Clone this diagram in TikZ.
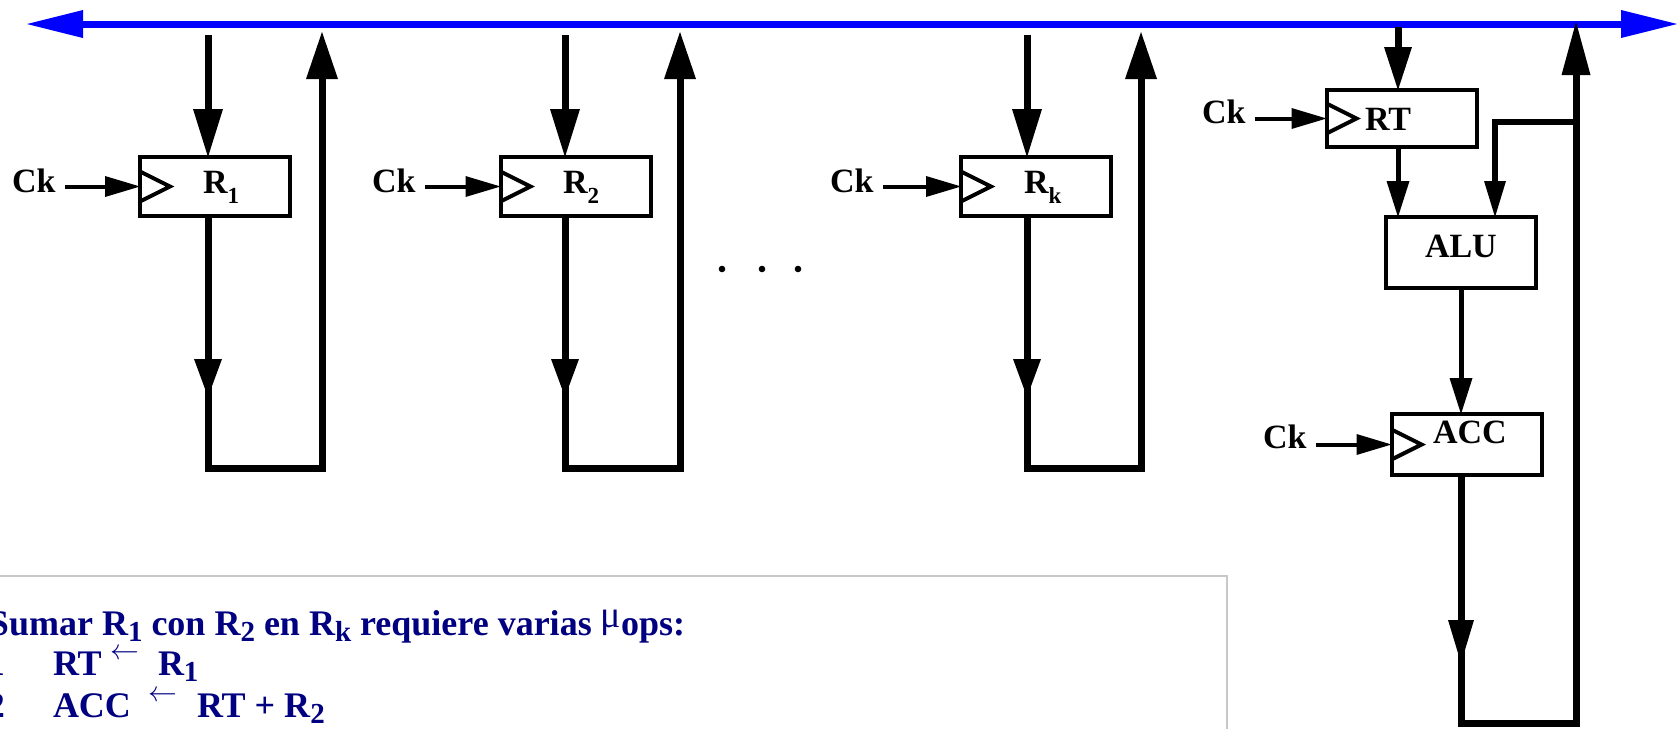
\documentclass[tikz,border=0pt]{standalone}
\usepackage{fontspec}
\setmainfont{Liberation Serif}
\usetikzlibrary{arrows.meta,calc}
\definecolor{busblue}{RGB}{0,0,255}
\definecolor{navytext}{RGB}{0,0,128}
\definecolor{framegray}{RGB}{200,200,200}
\newcommand\lblfont{\fontsize{17pt}{20pt}\selectfont\bfseries}
\newcommand\dsub[1]{\raisebox{-5pt}{\fontsize{11.5pt}{13pt}\selectfont #1}}
\newcommand\txtfont{\fontsize{18pt}{21pt}\selectfont\bfseries}
\newcommand\tsub[1]{\raisebox{-3pt}{\fontsize{14.5pt}{16pt}\selectfont #1}}
\newcommand\larrow{\raisebox{8pt}{\fontsize{14pt}{16pt}\selectfont$\leftarrow$}}
\newcommand\mutxt{\raisebox{4pt}{\fontsize{19pt}{20pt}\selectfont\mdseries μ}}
\begin{document}
\begin{tikzpicture}[x=0.5pt,y=-0.5pt,
  reg/.style={draw, line width=2pt, inner sep=0pt, outer sep=0pt, minimum width=75pt, minimum height=29.5pt},
  lbl/.style={inner sep=0pt, outer sep=0pt, font=\lblfont},
  txt/.style={inner sep=0pt, outer sep=0pt, font=\txtfont, text=navytext},
  dataline/.style={line width=3.5pt},
  medline/.style={line width=2.5pt},
  ckl/.style={line width=2pt, -{Triangle[length=17.5pt,width=10.5pt,line width=0pt]}},
  clk/.style={line width=2pt},
  busline/.style={line width=3.5pt, draw=busblue, fill=busblue,
     {Triangle[length=28pt,width=14pt,line width=0pt]}-{Triangle[length=28pt,width=14pt,line width=0pt]}},
  tapin/.style={dataline, -{Triangle[length=24pt,width=15pt,line width=0pt]}},
  tapout/.style={dataline, -{Triangle[length=23.5pt,width=16pt,line width=0pt]}},
  midarr/.style={dataline, -{Triangle[length=19pt,width=14pt,line width=0pt]}},
  smallarr/.style={medline, -{Triangle[length=18pt,width=11.5pt,line width=0pt]}},
  dotstyle/.style={fill=black},
]
\useasboundingbox (0,0) rectangle (1680,728);
\clip (0,0) rectangle (1680,728);

% bus
\coordinate (busL) at (27,24);
\coordinate (busR) at (1677,24);
\draw[busline] (busL) -- (busR);

% registers
\node[reg] (R1) at (215,186.5) {};
\node[reg] (R2) at (575.5,186.5) {};
\node[reg] (Rk) at (1036,186.5) {};
\node[reg, minimum height=28.5pt] (RT) at (1401.5,118.5) {};
\node[reg, minimum height=35.5pt] (ALU) at (1461,252.5) {};
\node[reg, minimum height=30.5pt] (ACC) at (1466.5,444.5) {};

\node[lbl, anchor=base west] (R1l) at (203,193) {R\dsub{1}};
\node[lbl, anchor=base west] (R2l) at (563,193) {R\dsub{2}};
\node[lbl, anchor=base west] (Rkl) at (1024,193) {R\dsub{k}};
\node[lbl, anchor=base west] (RTl) at (1365,130) {RT};
\node[lbl, anchor=base west] (ALUl) at (1425,257) {ALU};
\node[lbl, anchor=base west] (ACCl) at (1433,443) {ACC};

% clocks
\node[lbl, anchor=base west] (ck1) at (12,192) {Ck};
\node[lbl, anchor=base west] (ck2) at (372,192) {Ck};
\node[lbl, anchor=base west] (ckk) at (830,192) {Ck};
\node[lbl, anchor=base west] (ckT) at (1202,123) {Ck};
\node[lbl, anchor=base west] (ckA) at (1263,448) {Ck};
\draw[ckl] ($(ck1.east |- R1.west)+(10,0)$) -- (R1.west);
\draw[ckl] ($(ck2.east |- R2.west)+(10,0)$) -- (R2.west);
\draw[ckl] ($(ckk.east |- Rk.west)+(10,0)$) -- (Rk.west);
\draw[ckl] ($(ckT.east |- RT.west)+(10,0)$) -- (RT.west);
\draw[ckl] ($(ckA.east |- ACC.west)+(10,0)$) -- (ACC.west);
\foreach \r in {R1,R2,Rk,RT,ACC}
  \draw[clk] ($(\r.west)+(0,-15)$) -- ($(\r.west)+(30,0)$) -- ($(\r.west)+(0,15)$);

% register loops
\coordinate (in1) at (208,35);
\coordinate (m1) at (208,397);
\coordinate (s1) at (208,380);
\coordinate (c1) at (208,468);
\coordinate (d1) at (322,468);
\coordinate (o1) at (322,32);
\draw[tapin] (in1) -- (in1 |- R1.north);
\draw[midarr] (R1.south -| m1) -- (m1);
\draw[tapout] (s1) -- (c1) -- (d1) -- (o1);

\coordinate (in2) at (565,35);
\coordinate (m2) at (565,397);
\coordinate (s2) at (565,380);
\coordinate (c2) at (565,468);
\coordinate (d2) at (680,468);
\coordinate (o2) at (680,32);
\draw[tapin] (in2) -- (in2 |- R2.north);
\draw[midarr] (R2.south -| m2) -- (m2);
\draw[tapout] (s2) -- (c2) -- (d2) -- (o2);

\coordinate (ink) at (1027,35);
\coordinate (mk) at (1027,397);
\coordinate (sk) at (1027,380);
\coordinate (ck) at (1027,468);
\coordinate (dk) at (1141,468);
\coordinate (ok) at (1141,32);
\draw[tapin] (ink) -- (ink |- Rk.north);
\draw[midarr] (Rk.south -| mk) -- (mk);
\draw[tapout] (sk) -- (ck) -- (dk) -- (ok);

% dots
\fill[dotstyle] (722,269) circle (3.3);
\fill[dotstyle] (762,269) circle (3.3);
\fill[dotstyle] (798,269) circle (3.3);

% ALU section
\coordinate (inT) at (1398,27);
\draw[dataline, -{Triangle[length=21.5pt,width=14pt,line width=0pt]}] (inT) -- (inT |- RT.north);
\draw[smallarr] (RT.south -| inT) -- (inT |- ALU.north);
\coordinate (brR) at (1576,122);
\coordinate (brL) at (1495,122);
\draw[line width=3pt, -{Triangle[length=18pt,width=11pt,line width=0pt]}] (brR) -- (brL) -- (brL |- ALU.north);
\draw[smallarr] (ALU.south) -- (ALU.south |- ACC.north);
\coordinate (accM) at (1461,663);
\coordinate (accS) at (1461,642);
\coordinate (accB) at (1461,723);
\coordinate (rB) at (1576,723);
\coordinate (rT) at (1576,22);
\draw[dataline, -{Triangle[length=21.5pt,width=13pt,line width=0pt]}] (ACC.south -| accM) -- (accM);
\draw[dataline, -{Triangle[length=26.5pt,width=14.5pt,line width=0pt]}] (accS) -- (accB) -- (rB) -- (rT);

% text frame
\draw[draw=framegray, line width=0.75pt] (-10,576) rectangle (1227,760);
\node[txt, anchor=base west] (l1) at (-11,635) {Sumar R\tsub{1} con R\tsub{2} en R\tsub{k} requiere varias \mutxt ops:};
\node[txt, anchor=base west] (n1) at (-13,675) {1};
\node[txt, anchor=base west] (a1) at (53,675) {RT};
\node[txt, anchor=base west] (ar1) at (110,675) {\larrow};
\node[txt, anchor=base west] (b1) at (158,675) {R\tsub{1}};
\node[txt, anchor=base west] (n2) at (-13,717) {2};
\node[txt, anchor=base west] (a2) at (53,717) {ACC};
\node[txt, anchor=base west] (ar2) at (148,717) {\larrow};
\node[txt, anchor=base west] (b2) at (197,717) {RT + R\tsub{2}};
\end{tikzpicture}
\end{document}
